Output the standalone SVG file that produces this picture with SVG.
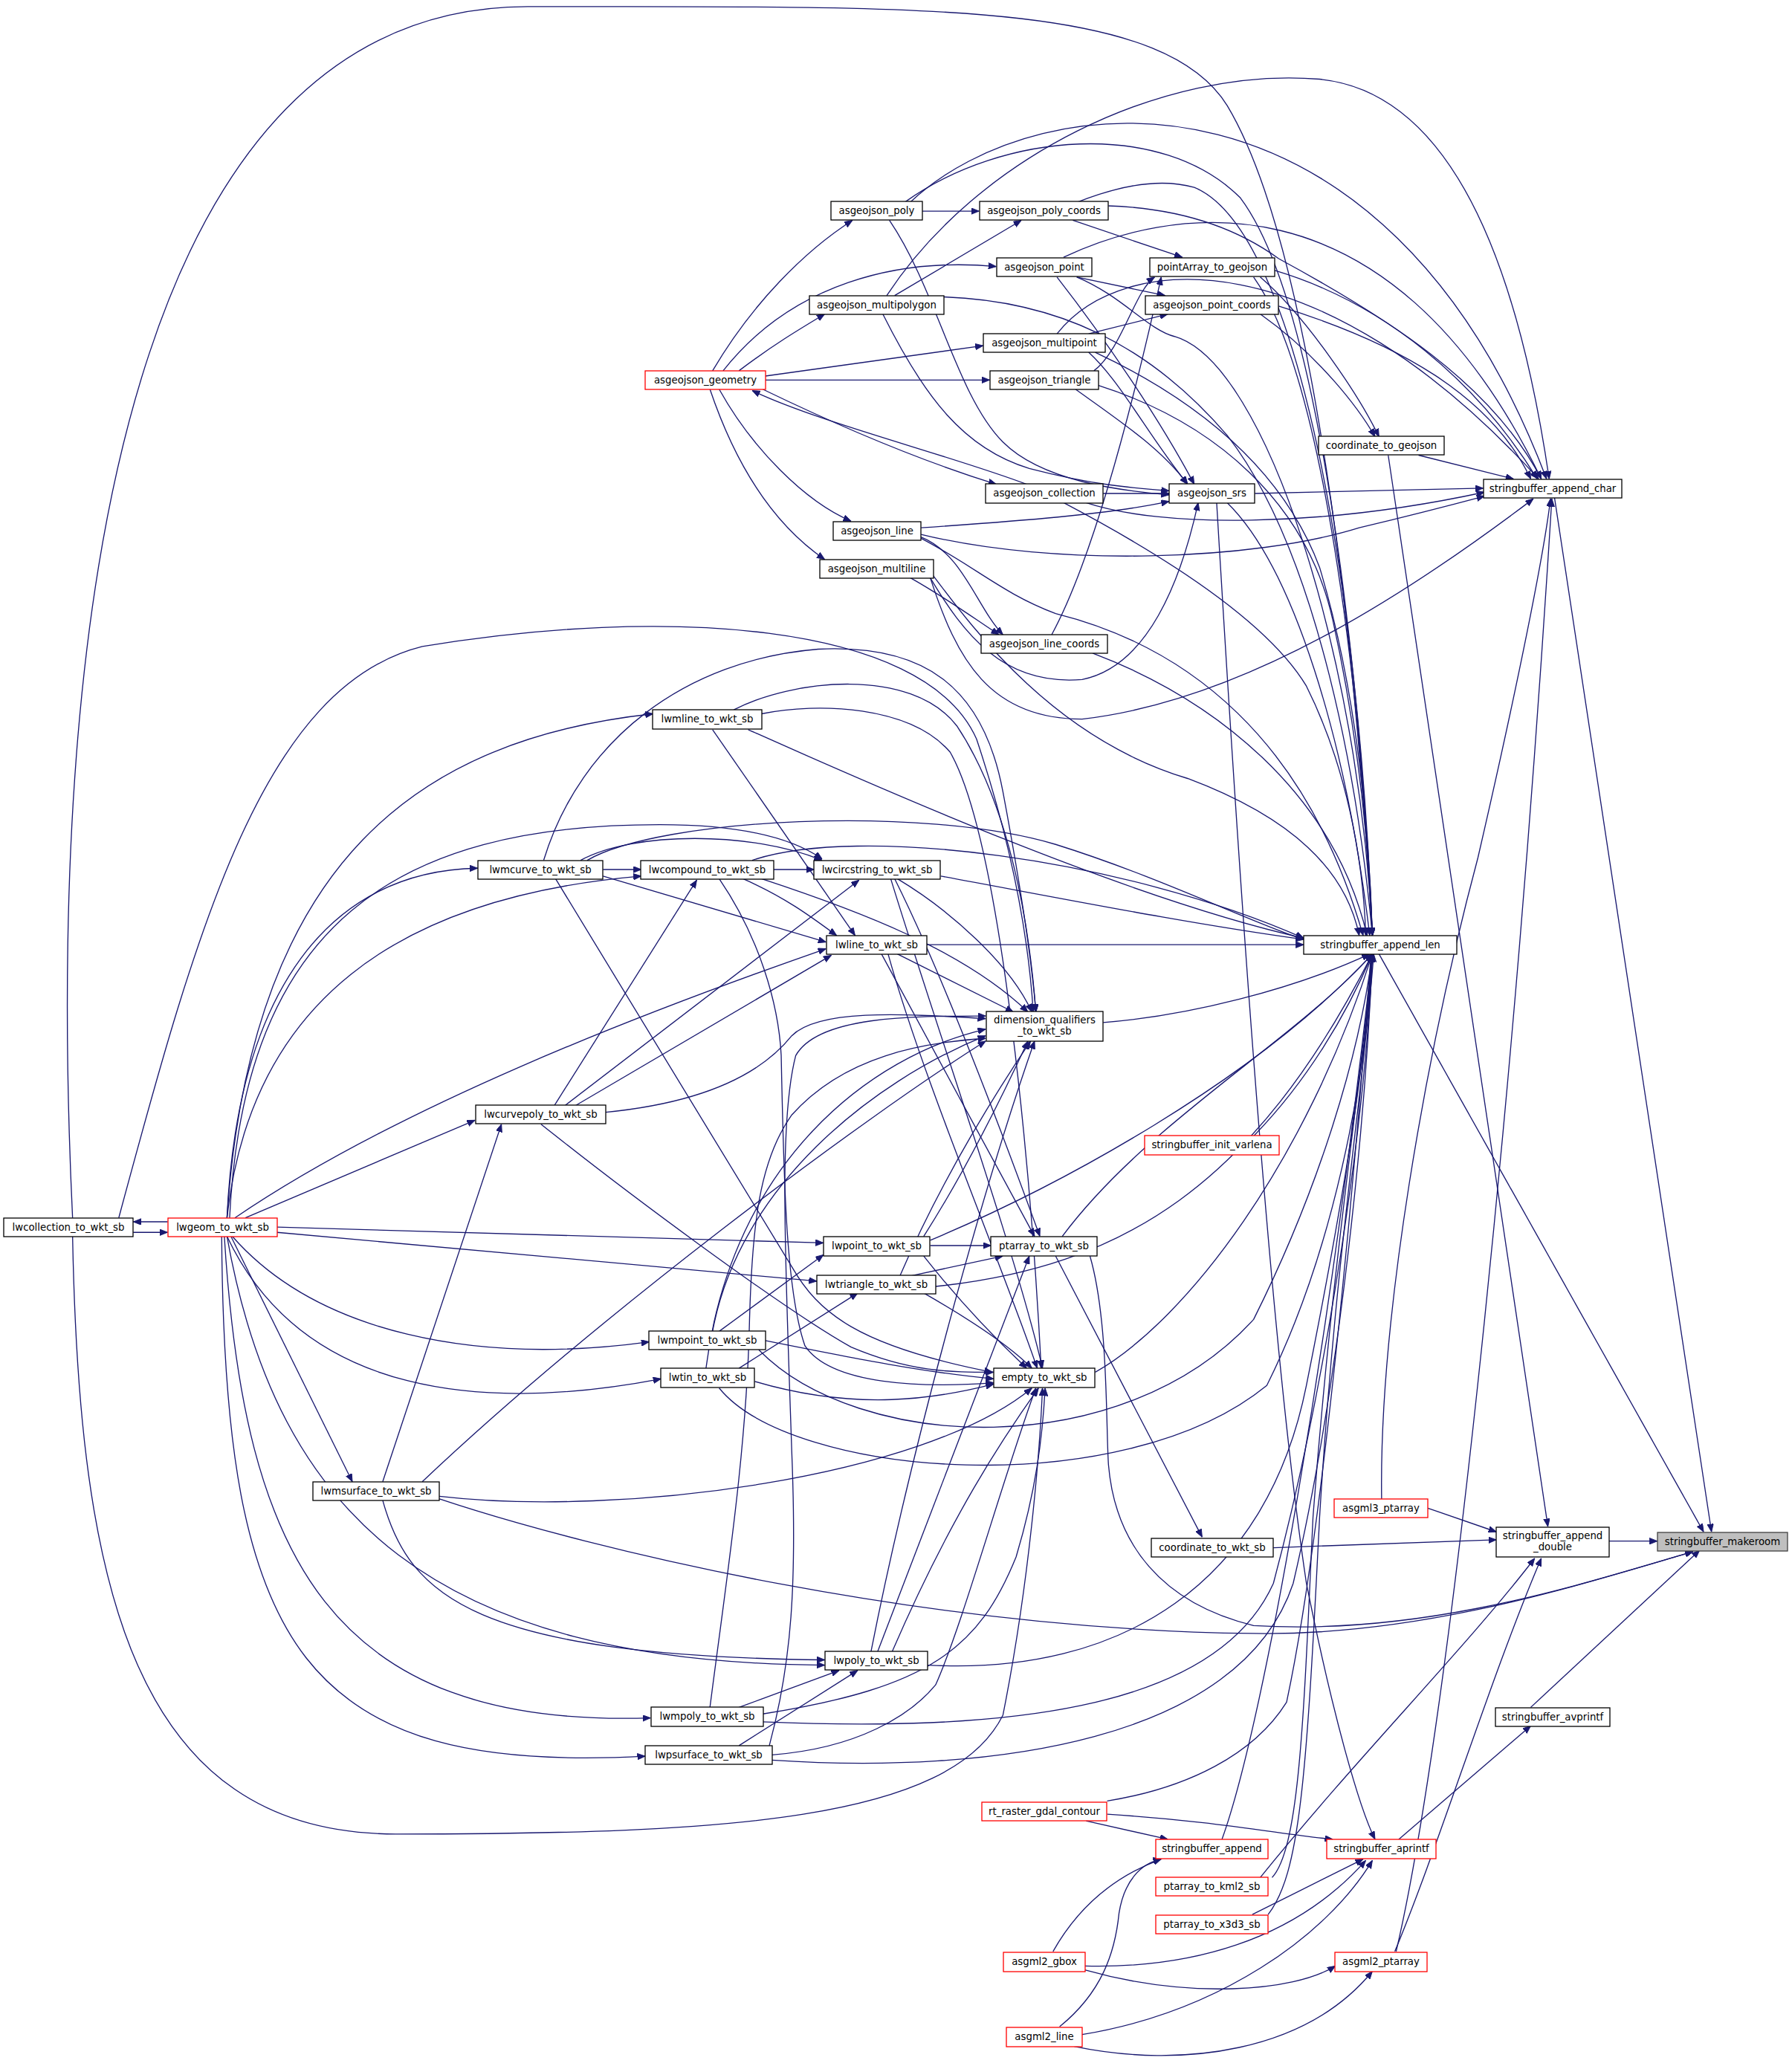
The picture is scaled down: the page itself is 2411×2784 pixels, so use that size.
<svg xmlns="http://www.w3.org/2000/svg" width="2411" height="2784" viewBox="0 0 2411 2784">
<style>
.n rect{fill:#fff;stroke:#000;stroke-width:1.3}
.r rect{fill:#fff;stroke:#ff0000;stroke-width:1.3}
.g rect{fill:#bfbfbf;stroke:#404040;stroke-width:1.3}
text{font-family:"DejaVu Sans","Liberation Sans",sans-serif;font-size:13.3px;text-anchor:middle;fill:#000}
.e path{fill:none;stroke:#191970;stroke-width:0.75;marker-end:url(#a)}
</style>
<defs>
<marker id="a" markerWidth="6" markerHeight="5" refX="6" refY="2.4" orient="auto" markerUnits="userSpaceOnUse"><path d="M0,0 L6,2.4 L0,4.8 z" fill="#191970" stroke="#191970" stroke-width="0.5"/></marker>
</defs>
<rect width="2411" height="2784" fill="#fff"/>
<g class="e" transform="scale(1.77541)">
<path d="M1219,1168 L1256,1168"/>
<path d="M1178,377 L1297,1161"/>
<path d="M1045,723 L1291,1161"/>
<path d="M1160,1294 L1288,1175"/>
<path d="M333,1136 C450,1175 700,1235 950,1238 C1080,1240 1200,1200 1283,1176"/>
<path d="M826,952 C840,1000 838,1080 840,1110 C845,1170 880,1215 950,1232 C1080,1240 1200,1200 1283,1176"/>
<path d="M1052,345 L1173,1157"/>
<path d="M965,1173 L1134,1167"/>
<path d="M1082,1143 L1134,1161"/>
<path d="M955,1423 C1030,1330 1110,1250 1163,1181"/>
<path d="M1057,1479 C1090,1400 1130,1270 1168,1181"/>
<path d="M1075,345 L1147,363"/>
<path d="M951,374 L1124,370"/>
<path d="M966,205 C1050,230 1120,290 1165,363"/>
<path d="M969,232 C1060,260 1130,300 1160,363"/>
<path d="M840,156 C900,158 940,175 969,196 C1050,240 1130,290 1168,363"/>
<path d="M690,153 C790,60 1050,40 1172,363"/>
<path d="M672,224 C740,120 880,50 1000,60 C1100,70 1150,200 1174,363"/>
<path d="M806,195 C880,160 1050,120 1168,363"/>
<path d="M801,253 C850,190 1000,180 1166,363"/>
<path d="M823,381 C880,400 1000,400 1125,373"/>
<path d="M698,405 C800,430 950,425 1030,400 C1080,388 1110,380 1125,376"/>
<path d="M705,438 C725,500 750,545 820,545 C950,530 1080,440 1162,378"/>
<path d="M1047,1136 C1045,1000 1080,800 1120,650 C1150,520 1170,420 1175,378"/>
<path d="M1058,1479 C1100,1300 1150,800 1176,378"/>
<path d="M1060,1394 L1160,1308"/>
<path d="M922,381 C935,600 960,1000 990,1200 C1010,1300 1030,1370 1042,1394"/>
<path d="M839,1375 C920,1380 970,1390 1010,1394"/>
<path d="M949,1451 L1033,1409"/>
<path d="M822,1490 C900,1492 980,1472 1035,1410"/>
<path d="M820,1542 C923,1525 1005,1468 1040,1410"/>
<path d="M822,1493 C900,1515 980,1510 1012,1490"/>
<path d="M814,1551 C896,1568 990,1555 1040,1494"/>
<path d="M823,1380 L885,1394"/>
<path d="M798,1479 C820,1440 850,1420 880,1409"/>
<path d="M803,1536 C835,1510 845,1480 848,1450 C852,1425 865,1412 880,1409"/>
<path d="M926,1394 C960,1300 1010,1000 1040,723"/>
<path d="M839,1365 C900,1355 950,1330 975,1290 C1005,1150 1030,850 1039,723"/>
<path d="M964,1423 C985,1400 988,1300 995,1150 C1010,950 1032,820 1040,723"/>
<path d="M961,1451 C985,1420 990,1350 1000,1150 C1012,950 1034,820 1041,723"/>
<path d="M950,861 C990,820 1020,770 1040,723"/>
<path d="M836,775 C900,770 980,750 1038,723"/>
<path d="M830,1040 C900,1000 990,880 1040,723"/>
<path d="M805,937 C870,850 980,790 1040,723"/>
<path d="M702,716 L988,716"/>
<path d="M713,664 C800,680 900,700 988,712"/>
<path d="M705,940 C800,900 950,820 1040,723"/>
<path d="M709,975 C850,960 950,900 1040,723"/>
<path d="M703,1262 C850,1270 960,1200 990,1050 C1020,900 1035,800 1040,723"/>
<path d="M578,1305 C750,1312 920,1300 965,1200 C1005,1050 1035,850 1040,723"/>
<path d="M585,1334 C750,1345 940,1320 980,1200 C1015,1050 1035,850 1040,723"/>
<path d="M575,1023 C650,1100 850,1110 950,1000 C1000,900 1030,800 1040,723"/>
<path d="M545,1052 C600,1120 850,1140 960,1050 C1010,950 1035,820 1040,723"/>
<path d="M567,553 C650,590 850,680 988,711"/>
<path d="M570,652 C650,625 850,650 988,711"/>
<path d="M445,652 C500,620 700,610 800,640 C880,665 950,700 988,712"/>
<path d="M55,923 C30,400 120,5 400,5 C700,5 880,0 930,80 C990,180 1025,450 1040,709"/>
<path d="M930,381 C980,430 1020,560 1038,709"/>
<path d="M828,495 C920,530 1010,600 1036,709"/>
<path d="M806,381 C880,420 960,470 990,520 C1020,580 1033,650 1035,709"/>
<path d="M698,408 C740,430 760,450 800,465 C900,490 990,560 1033,709"/>
<path d="M707,436 C740,480 800,560 900,590 C980,620 1020,660 1030,709"/>
<path d="M715,225 C800,228 870,260 930,330 C1000,420 1030,600 1040,709"/>
<path d="M686,153 C760,100 880,90 940,150 C1000,230 1030,500 1040,709"/>
<path d="M817,153 C850,140 880,135 905,142 C985,175 1030,450 1040,709"/>
<path d="M816,210 C850,224 870,250 890,255 C960,275 1030,500 1040,709"/>
<path d="M830,267 C900,300 970,350 1000,430 C1030,530 1038,640 1040,709"/>
<path d="M832,292 C920,320 990,380 1010,470 C1030,560 1038,650 1040,709"/>
<path d="M950,210 C1000,280 1030,500 1040,709"/>
<path d="M127,926 L101,926"/>
<path d="M101,934 L127,934"/>
<path d="M172,923 C190,650 320,560 495,541"/>
<path d="M172,923 C180,750 250,660 362,658"/>
<path d="M172,923 C190,760 300,680 486,664"/>
<path d="M174,923 C185,700 300,625 500,625 C560,625 600,635 623,651"/>
<path d="M178,923 C300,840 480,770 626,719"/>
<path d="M186,923 L360,849"/>
<path d="M210,930 L624,942"/>
<path d="M210,934 L619,971"/>
<path d="M176,937 C240,1010 360,1035 492,1017"/>
<path d="M172,937 C230,1060 370,1070 501,1045"/>
<path d="M175,937 L267,1123"/>
<path d="M172,937 C210,1150 330,1260 625,1262"/>
<path d="M170,937 C185,1180 250,1310 493,1302"/>
<path d="M168,937 C170,1250 230,1345 489,1331"/>
<path d="M55,937 C60,1200 100,1390 300,1390 C550,1390 720,1380 760,1300 C780,1200 788,1100 790,1052"/>
<path d="M90,923 C150,700 200,520 320,490 C500,460 700,470 740,560 C770,650 780,720 783,767"/>
<path d="M540,553 L648,709"/>
<path d="M556,538 C600,515 690,505 725,550 C765,610 780,700 785,767"/>
<path d="M577,541 C620,532 690,535 720,570 C760,640 782,900 789,1037"/>
<path d="M457,659 L486,659"/>
<path d="M440,652 C480,630 570,630 623,652"/>
<path d="M457,664 L626,714"/>
<path d="M412,652 C440,560 520,500 620,492 C700,488 745,520 760,600 C775,680 782,730 785,767"/>
<path d="M421,666 L600,960 C620,995 650,1020 752,1040"/>
<path d="M586,659 L617,659"/>
<path d="M563,666 C595,680 615,695 634,709"/>
<path d="M577,666 C650,690 730,720 779,767"/>
<path d="M545,666 C575,710 590,760 592,800 C594,900 596,980 610,1020 C630,1050 700,1052 753,1048"/>
<path d="M680,666 C720,690 765,730 782,767"/>
<path d="M678,666 C715,740 760,860 788,937"/>
<path d="M675,666 C710,780 770,950 790,1037"/>
<path d="M680,723 L768,767"/>
<path d="M668,723 L784,937"/>
<path d="M673,723 C700,820 760,960 786,1037"/>
<path d="M420,838 L528,667"/>
<path d="M428,838 L651,667"/>
<path d="M436,838 L630,724"/>
<path d="M459,843 C540,835 580,810 600,785 C620,765 680,768 747,772"/>
<path d="M410,852 C470,900 590,990 645,1021 C690,1040 720,1040 753,1040"/>
<path d="M705,944 L751,944"/>
<path d="M700,937 C730,890 760,830 779,789"/>
<path d="M700,952 C730,990 760,1020 778,1037"/>
<path d="M690,967 L760,952"/>
<path d="M682,967 C715,890 760,820 781,789"/>
<path d="M700,980 C735,1000 765,1020 782,1037"/>
<path d="M665,1252 L780,952"/>
<path d="M660,1252 C690,1100 745,900 784,789"/>
<path d="M676,1252 C720,1150 760,1090 787,1052"/>
<path d="M545,1009 L624,951"/>
<path d="M540,1009 C560,900 660,820 747,785"/>
<path d="M580,1016 C650,1030 700,1040 753,1045"/>
<path d="M560,1037 L650,980"/>
<path d="M535,1037 C555,880 660,800 747,780"/>
<path d="M572,1047 C650,1070 710,1060 753,1049"/>
<path d="M560,1294 L636,1266"/>
<path d="M538,1294 C550,1200 566,1100 568,1000 C570,930 575,880 600,845 C640,800 700,790 747,787"/>
<path d="M578,1299 C705,1279 742,1249 770,1180 C785,1130 790,1090 792,1052"/>
<path d="M560,1323 L650,1266"/>
<path d="M583,1323 C600,1260 604,1200 600,1100 C595,950 590,850 603,800 C620,770 690,770 747,770"/>
<path d="M585,1330 C650,1325 690,1300 709,1277 C730,1230 760,1120 785,1052"/>
<path d="M290,1123 L380,852"/>
<path d="M290,1137 C310,1210 360,1255 625,1258"/>
<path d="M320,1123 C450,1000 650,850 747,789"/>
<path d="M333,1134 C470,1150 700,1120 782,1052"/>
<path d="M800,952 L911,1165"/>
<path d="M540,281 C570,230 610,190 646,167"/>
<path d="M560,281 C585,262 605,250 625,238"/>
<path d="M548,281 C600,215 680,195 755,202"/>
<path d="M580,285 L745,262"/>
<path d="M580,288 L750,288"/>
<path d="M578,295 C640,325 700,350 755,367"/>
<path d="M778,367 C720,345 620,320 570,296"/>
<path d="M545,295 C570,340 610,380 645,395"/>
<path d="M538,295 C560,360 590,400 625,424"/>
<path d="M699,160 L742,160"/>
<path d="M674,167 C710,220 725,300 760,335 C790,365 850,372 886,375"/>
<path d="M678,224 L774,167"/>
<path d="M669,238 C700,300 730,340 780,355 C830,368 860,370 886,372"/>
<path d="M816,210 L883,224"/>
<path d="M801,210 C840,260 880,320 905,367"/>
<path d="M825,253 L885,238"/>
<path d="M825,267 C850,290 870,330 900,367"/>
<path d="M829,281 C850,265 860,220 875,210"/>
<path d="M815,295 C850,320 880,340 900,367"/>
<path d="M836,374 L886,374"/>
<path d="M698,400 C770,395 840,390 886,380"/>
<path d="M698,407 C730,420 740,460 760,481"/>
<path d="M690,438 C720,455 740,470 757,481"/>
<path d="M705,438 C730,480 760,520 820,515 C870,505 895,440 908,381"/>
<path d="M797,481 C830,420 860,300 880,210"/>
<path d="M813,167 L896,195"/>
<path d="M955,210 C990,240 1030,300 1045,331"/>
<path d="M955,238 C1000,270 1030,310 1042,331"/>
</g>
<g id="n_makeroom" class="g"><rect x="2230" y="2062" width="175" height="25"/><text x="2317.5" y="2079">stringbuffer_makeroom</text></g>
<g id="n_append_double" class="n"><rect x="2013" y="2055" width="152" height="40"/><text x="2089" y="2071">stringbuffer_append</text><text x="2089" y="2086">_double</text></g>
<g id="n_append_char" class="n"><rect x="1996" y="645" width="186" height="25"/><text x="2089" y="662">stringbuffer_append_char</text></g>
<g id="n_avprintf" class="n"><rect x="2012" y="2298" width="154" height="25"/><text x="2089" y="2315">stringbuffer_avprintf</text></g>
<g id="n_append_len" class="n"><rect x="1754" y="1259" width="206" height="25"/><text x="1857" y="1276">stringbuffer_append_len</text></g>
<g id="n_coord_geojson" class="n"><rect x="1774" y="587" width="169" height="25"/><text x="1858.5" y="604">coordinate_to_geojson</text></g>
<g id="n_asgml3_ptarray" class="r"><rect x="1795" y="2017" width="126" height="25"/><text x="1858" y="2034">asgml3_ptarray</text></g>
<g id="n_aprintf" class="r"><rect x="1785" y="2475" width="147" height="26"/><text x="1858.5" y="2492">stringbuffer_aprintf</text></g>
<g id="n_asgml2_ptarray" class="r"><rect x="1796" y="2627" width="124" height="26"/><text x="1858" y="2644">asgml2_ptarray</text></g>
<g id="n_srs" class="n"><rect x="1573" y="651" width="115" height="26"/><text x="1630.5" y="668">asgeojson_srs</text></g>
<g id="n_pointArray" class="n"><rect x="1547" y="347" width="168" height="25"/><text x="1631" y="364">pointArray_to_geojson</text></g>
<g id="n_point_coords" class="n"><rect x="1541" y="398" width="179" height="25"/><text x="1630.5" y="415">asgeojson_point_coords</text></g>
<g id="n_init_varlena" class="r"><rect x="1540" y="1528" width="181" height="26"/><text x="1630.5" y="1545">stringbuffer_init_varlena</text></g>
<g id="n_coord_wkt" class="n"><rect x="1549" y="2070" width="164" height="25"/><text x="1631" y="2087">coordinate_to_wkt_sb</text></g>
<g id="n_sb_append" class="r"><rect x="1555" y="2475" width="151" height="26"/><text x="1630.5" y="2492">stringbuffer_append</text></g>
<g id="n_kml2" class="r"><rect x="1555" y="2526" width="151" height="25"/><text x="1630.5" y="2543">ptarray_to_kml2_sb</text></g>
<g id="n_x3d3" class="r"><rect x="1555" y="2577" width="151" height="25"/><text x="1630.5" y="2594">ptarray_to_x3d3_sb</text></g>
<g id="n_poly_coords" class="n"><rect x="1318" y="271" width="173" height="25"/><text x="1404.5" y="288">asgeojson_poly_coords</text></g>
<g id="n_point" class="n"><rect x="1341" y="347" width="128" height="25"/><text x="1405" y="364">asgeojson_point</text></g>
<g id="n_multipoint" class="n"><rect x="1323" y="449" width="164" height="25"/><text x="1405" y="466">asgeojson_multipoint</text></g>
<g id="n_triangle" class="n"><rect x="1332" y="499" width="146" height="25"/><text x="1405" y="516">asgeojson_triangle</text></g>
<g id="n_collection" class="n"><rect x="1326" y="651" width="158" height="26"/><text x="1405" y="668">asgeojson_collection</text></g>
<g id="n_line_coords" class="n"><rect x="1320" y="854" width="170" height="25"/><text x="1405" y="871">asgeojson_line_coords</text></g>
<g id="n_dimq" class="n"><rect x="1327" y="1361" width="157" height="40"/><text x="1405.5" y="1377">dimension_qualifiers</text><text x="1405.5" y="1392">_to_wkt_sb</text></g>
<g id="n_ptarray_wkt" class="n"><rect x="1333" y="1664" width="143" height="26"/><text x="1404.5" y="1681">ptarray_to_wkt_sb</text></g>
<g id="n_empty" class="n"><rect x="1337" y="1841" width="136" height="26"/><text x="1405" y="1858">empty_to_wkt_sb</text></g>
<g id="n_rt_raster" class="r"><rect x="1321" y="2425" width="168" height="25"/><text x="1405" y="2442">rt_raster_gdal_contour</text></g>
<g id="n_asgml2_gbox" class="r"><rect x="1350" y="2627" width="110" height="26"/><text x="1405" y="2644">asgml2_gbox</text></g>
<g id="n_asgml2_line" class="r"><rect x="1354" y="2728" width="102" height="26"/><text x="1405" y="2745">asgml2_line</text></g>
<g id="n_poly" class="n"><rect x="1118" y="271" width="123" height="25"/><text x="1179.5" y="288">asgeojson_poly</text></g>
<g id="n_multipolygon" class="n"><rect x="1089" y="398" width="181" height="25"/><text x="1179.5" y="415">asgeojson_multipolygon</text></g>
<g id="n_line" class="n"><rect x="1121" y="702" width="118" height="25"/><text x="1180" y="719">asgeojson_line</text></g>
<g id="n_multiline" class="n"><rect x="1103" y="753" width="153" height="25"/><text x="1179.5" y="770">asgeojson_multiline</text></g>
<g id="n_lwcircstring" class="n"><rect x="1095" y="1158" width="170" height="25"/><text x="1180" y="1175">lwcircstring_to_wkt_sb</text></g>
<g id="n_lwline" class="n"><rect x="1112" y="1259" width="135" height="25"/><text x="1179.5" y="1276">lwline_to_wkt_sb</text></g>
<g id="n_lwpoint" class="n"><rect x="1108" y="1664" width="143" height="26"/><text x="1179.5" y="1681">lwpoint_to_wkt_sb</text></g>
<g id="n_lwtriangle" class="n"><rect x="1099" y="1716" width="160" height="25"/><text x="1179" y="1733">lwtriangle_to_wkt_sb</text></g>
<g id="n_lwpoly" class="n"><rect x="1110" y="2222" width="138" height="25"/><text x="1179" y="2239">lwpoly_to_wkt_sb</text></g>
<g id="n_geometry" class="r"><rect x="868" y="499" width="162" height="25"/><text x="949" y="516">asgeojson_geometry</text></g>
<g id="n_lwmline" class="n"><rect x="878" y="955" width="147" height="26"/><text x="951.5" y="972">lwmline_to_wkt_sb</text></g>
<g id="n_lwcompound" class="n"><rect x="862" y="1158" width="179" height="25"/><text x="951.5" y="1175">lwcompound_to_wkt_sb</text></g>
<g id="n_lwmpoint" class="n"><rect x="873" y="1791" width="157" height="25"/><text x="951.5" y="1808">lwmpoint_to_wkt_sb</text></g>
<g id="n_lwtin" class="n"><rect x="889" y="1841" width="126" height="26"/><text x="952" y="1858">lwtin_to_wkt_sb</text></g>
<g id="n_lwmpoly" class="n"><rect x="876" y="2297" width="151" height="26"/><text x="951.5" y="2314">lwmpoly_to_wkt_sb</text></g>
<g id="n_lwpsurface" class="n"><rect x="868" y="2349" width="171" height="25"/><text x="953.5" y="2366">lwpsurface_to_wkt_sb</text></g>
<g id="n_lwmcurve" class="n"><rect x="643" y="1158" width="168" height="25"/><text x="727" y="1175">lwmcurve_to_wkt_sb</text></g>
<g id="n_lwcurvepoly" class="n"><rect x="640" y="1487" width="175" height="25"/><text x="727.5" y="1504">lwcurvepoly_to_wkt_sb</text></g>
<g id="n_lwmsurface" class="n"><rect x="421" y="1994" width="170" height="25"/><text x="506" y="2011">lwmsurface_to_wkt_sb</text></g>
<g id="n_lwgeom" class="r"><rect x="226" y="1639" width="147" height="25"/><text x="299.5" y="1656">lwgeom_to_wkt_sb</text></g>
<g id="n_lwcollection" class="n"><rect x="5" y="1639" width="174" height="25"/><text x="92" y="1656">lwcollection_to_wkt_sb</text></g>
</svg>
